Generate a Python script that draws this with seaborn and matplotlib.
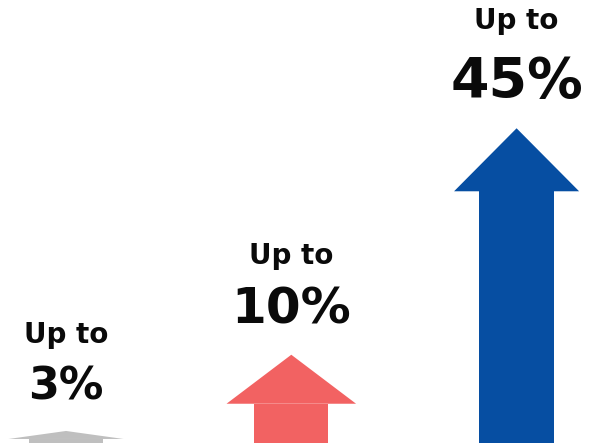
import numpy as np
import pandas as pd
import matplotlib
matplotlib.use("Agg")
import matplotlib.pyplot as plt
import seaborn as sns

# Data
categories = ["Low", "Mid", "High"]
values = [3, 10, 45]
value_labels = ["3%", "10%", "45%"]
prefix = "Up to"
colors = ["#bfbfbf", "#f26262", "#064ea2"]

# Arrow styling (pixels / points)
head_height_px = [8, 49, 63]
head_width = [0.51, 0.575, 0.555]
shaft_width = 0.33
pct_fontsize = [32, 36, 40]
prefix_fontsize = 20
prefix_gap_px = [57, 60, 68]

sns.set_theme(style="white")
plt.rcParams["font.family"] = ["DejaVu Sans"]

W, H, DPI = 590, 443, 100
fig = plt.figure(figsize=(W / DPI, H / DPI), dpi=DPI)
ax = fig.add_axes([0, 0, 1, 1])

# Power scale so the tall arrow does not dwarf the others
p = 0.63
fwd = lambda v: np.sign(v) * np.abs(v) ** p
inv = lambda t: np.sign(t) * np.abs(t) ** (1 / p)
ax.set_yscale("function", functions=(fwd, inv))
t_lo, t_hi = 1.64, 14.82
ax.set_ylim(inv(t_lo), inv(t_hi))
px_per_unit = H / (t_hi - t_lo)

shaft_top = [float(inv(fwd(v) - h / px_per_unit)) for v, h in zip(values, head_height_px)]

df = pd.DataFrame({"category": categories, "shaft": shaft_top})
sns.barplot(data=df, x="category", y="shaft", hue="category",
            palette=colors, width=shaft_width, legend=False, ax=ax,
            saturation=1, linewidth=0)

for i, (v, top, c, hw) in enumerate(zip(values, shaft_top, colors, head_width)):
    ax.fill([i - hw / 2, i, i + hw / 2], [top, v, top], color=c, lw=0)
    pct_off = 31 * 72 / DPI
    ax.annotate(value_labels[i], (i, v), xytext=(0, pct_off), textcoords="offset points",
                ha="center", va="baseline", fontsize=pct_fontsize[i],
                fontweight="bold", color="#0a0a0a")
    ax.annotate(prefix, (i, v), xytext=(0, pct_off + prefix_gap_px[i] * 72 / DPI),
                textcoords="offset points", ha="center", va="baseline",
                fontsize=prefix_fontsize, fontweight="bold", color="#0a0a0a")

ppx = 225.25
ax.set_xlim(-66 / ppx, 2 + (W - 516.6) / ppx)
ax.set_ylim(inv(t_lo), inv(t_hi))
ax.axis("off")

fig.savefig("out.png", dpi=DPI)
